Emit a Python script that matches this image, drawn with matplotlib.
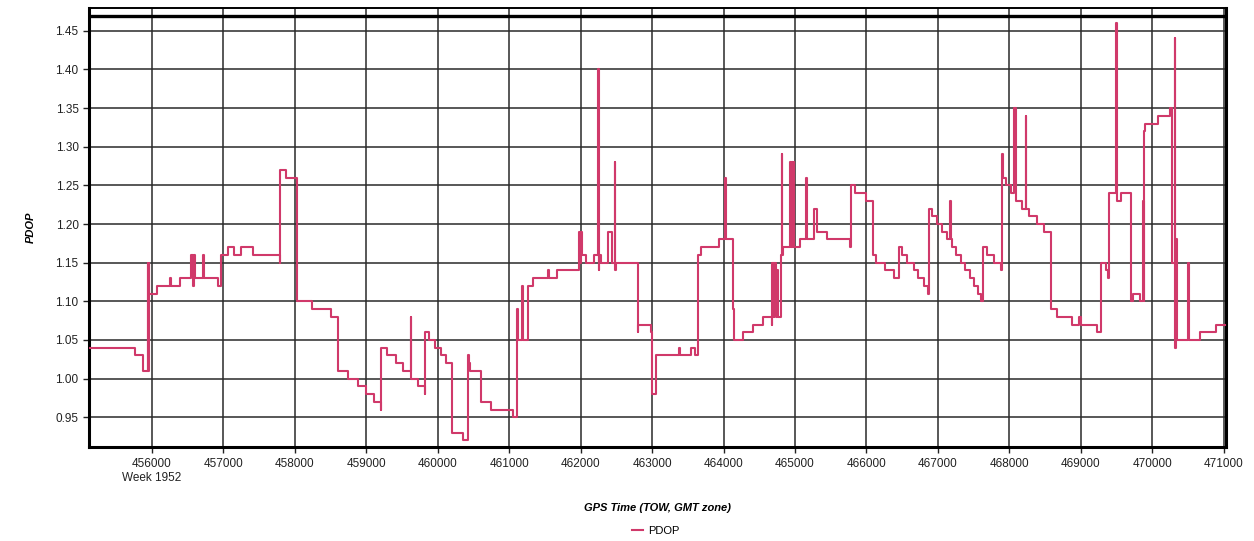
import numpy as np
import matplotlib.pyplot as plt

plt.rcParams["font.family"] = ["Liberation Sans", "DejaVu Sans"]

# GPS time of week (s) where each PDOP level starts (step, post)
tow = [455124, 455769, 455884, 455944, 455955, 455962, 455968, 456069, 456255, 456275,
       456394, 456556, 456575, 456590, 456602, 456718, 456735, 456935, 456972, 457065,
       457157, 457250, 457412, 457796, 457800, 457875, 458028, 458245, 458509, 458602,
       458743, 458883, 459000, 459117, 459205, 459215, 459295, 459421, 459515, 459622,
       459632, 459725, 459819, 459830, 459875, 459959, 460043, 460123, 460203, 460357,
       460427, 460445, 460460, 460614, 460746, 461059, 461106, 461120, 461185, 461195,
       461270, 461340, 461550, 461560, 461670, 461977, 461990, 462000, 462014, 462070,
       462186, 462242, 462252, 462262, 462285, 462385, 462433, 462475, 462485, 462495,
       462801, 462810, 462979, 463000, 463058, 463375, 463385, 463540, 463608, 463645,
       463690, 463934, 464015, 464040, 464129, 464150, 464279, 464419, 464558, 464674,
       464679, 464700, 464710, 464730, 464744, 464760, 464800, 464814, 464822, 464828,
       464930, 464945, 464955, 464970, 464980, 464990, 465070, 465153, 465165, 465265,
       465302, 465441, 465767, 465777, 465833, 465988, 466090, 466137, 466254, 466380,
       466455, 466490, 466560, 466660, 466720, 466800, 466863, 466877, 466910, 466980,
       467050, 467120, 467167, 467177, 467190, 467250, 467320, 467380, 467450, 467505,
       467565, 467600, 467635, 467692, 467785, 467878, 467897, 467905, 467955, 468015,
       468065, 468088, 468180, 468228, 468238, 468275, 468390, 468485, 468577, 468670,
       468880, 468973, 468997, 469229, 469276, 469345, 469380, 469390, 469490, 469500,
       469555, 469694, 469731, 469824, 469870, 469878, 469884, 469895, 470079, 470250,
       470270, 470311, 470320, 470330, 470340, 470496, 470506, 470668, 470891, 471030]

pdop = [1.04, 1.03, 1.01, 1.15, 1.01, 1.15, 1.11, 1.12, 1.13, 1.12,
        1.13, 1.16, 1.12, 1.16, 1.13, 1.16, 1.13, 1.12, 1.16, 1.17,
        1.16, 1.17, 1.16, 1.15, 1.27, 1.26, 1.10, 1.09, 1.08, 1.01,
        1.00, 0.99, 0.98, 0.97, 0.96, 1.04, 1.03, 1.02, 1.01, 1.08,
        1.00, 0.99, 0.98, 1.06, 1.05, 1.04, 1.03, 1.02, 0.93, 0.92,
        1.03, 1.02, 1.01, 0.97, 0.96, 0.95, 1.09, 1.05, 1.12, 1.05,
        1.12, 1.13, 1.14, 1.13, 1.14, 1.19, 1.15, 1.19, 1.16, 1.15,
        1.16, 1.40, 1.14, 1.16, 1.15, 1.19, 1.15, 1.28, 1.14, 1.15,
        1.06, 1.07, 1.06, 0.98, 1.03, 1.04, 1.03, 1.04, 1.03, 1.16,
        1.17, 1.18, 1.26, 1.18, 1.09, 1.05, 1.06, 1.07, 1.08, 1.07,
        1.15, 1.08, 1.15, 1.08, 1.14, 1.08, 1.16, 1.29, 1.16, 1.17,
        1.28, 1.17, 1.28, 1.17, 1.28, 1.17, 1.18, 1.26, 1.18, 1.22,
        1.19, 1.18, 1.17, 1.25, 1.24, 1.23, 1.16, 1.15, 1.14, 1.13,
        1.17, 1.16, 1.15, 1.14, 1.13, 1.12, 1.11, 1.22, 1.21, 1.20,
        1.19, 1.18, 1.23, 1.18, 1.17, 1.16, 1.15, 1.14, 1.13, 1.12,
        1.11, 1.10, 1.17, 1.16, 1.15, 1.14, 1.29, 1.26, 1.25, 1.24,
        1.35, 1.23, 1.22, 1.34, 1.22, 1.21, 1.20, 1.19, 1.09, 1.08,
        1.07, 1.08, 1.07, 1.06, 1.15, 1.14, 1.13, 1.24, 1.46, 1.23,
        1.24, 1.10, 1.11, 1.10, 1.23, 1.10, 1.32, 1.33, 1.34, 1.35,
        1.15, 1.44, 1.04, 1.18, 1.05, 1.15, 1.05, 1.06, 1.07, 1.07]

xticks = np.arange(456000, 471001, 1000)
yticks = np.round(np.arange(0.95, 1.451, 0.05), 2)

fig = plt.figure(figsize=(12.54, 5.41), dpi=100)
ax = fig.add_axes([0.071, 0.1732, 0.9067, 0.812])

ax.step(tow, pdop, where="post", color="#d0396a", linewidth=1.5, label="PDOP", zorder=3)

ax.set_xlim(455124, 471030)
ax.set_ylim(0.9112, 1.4794)
ax.set_xticks(xticks)
ax.set_xticklabels([f"{t}\nWeek 1952" if t == 456000 else str(t) for t in xticks])
ax.set_yticks(yticks)
ax.set_yticklabels([f"{v:.2f}" for v in yticks])
ax.tick_params(labelsize=8.5, length=4, width=1, colors="#222222")

ax.grid(True, color="#2a2a2a", linewidth=1.1, zorder=1)
ax.axhline(1.4694, color="black", linewidth=2.4, zorder=2)
for s in ax.spines.values():
    s.set_linewidth(2.2)
    s.set_color("black")
ax.spines["top"].set_linewidth(1.4)

ax.set_xlabel("GPS Time (TOW, GMT zone)", fontsize=8, fontweight="bold", style="italic", labelpad=14)
ax.set_ylabel("PDOP", fontsize=8, fontweight="bold", style="italic", labelpad=14)

fig.legend(loc="center", bbox_to_anchor=(0.523, 0.018), frameon=False, fontsize=8,
           handlelength=1, handletextpad=0.4)

fig.savefig("out.png", dpi=100)
